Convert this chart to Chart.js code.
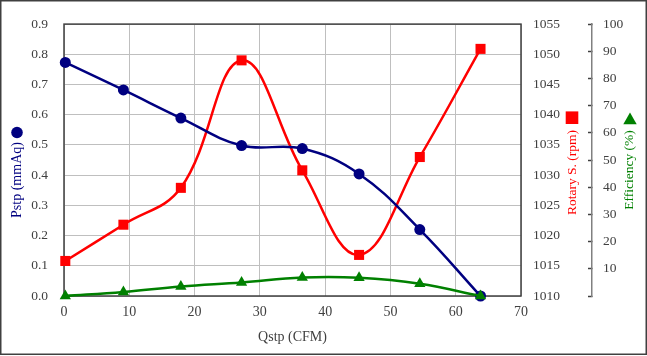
<!DOCTYPE html>
<html><head><meta charset="utf-8">
<script src="https://cdn.jsdelivr.net/npm/chart.js@4/dist/chart.umd.min.js"></script>
<style>html,body{margin:0;padding:0;background:#fff;}</style>
</head><body>
<canvas id="c" width="647" height="356"></canvas>
<script>
// ---- data ----
const flowCFM = [0.2, 9.1, 17.9, 27.2, 36.5, 45.2, 54.5, 63.8];
const pstpValues = [0.773, 0.682, 0.589, 0.498, 0.488, 0.404, 0.220, 0.0];
const rotaryValues = [1015.8, 1021.8, 1027.9, 1049.0, 1030.8, 1016.8, 1033.0, 1050.9];
const efficiencyValues = [0, 1.5, 3.5, 5.0, 6.8, 6.7, 4.5, 0];
const xTicks = [0, 10, 20, 30, 40, 50, 60, 70];
const pstpTicks = [0, 0.1, 0.2, 0.3, 0.4, 0.5, 0.6, 0.7, 0.8, 0.9];
const rotaryTicks = [1010, 1015, 1020, 1025, 1030, 1035, 1040, 1045, 1050, 1055];
const efficiencyTicks = [0, 10, 20, 30, 40, 50, 60, 70, 80, 90, 100];
const titles = { x: 'Qstp (CFM)', pstp: 'Pstp (mmAq)', rotary: 'Rotary S. (rpm)', eff: 'Efficiency (%)' };

const FONT = "'Liberation Serif', 'Times New Roman', serif";
const TICK = '#404040';
const NAVY = '#000080', RED = '#ff0000', GREEN = '#008000';

const pts = vals => flowCFM.map((x, i) => ({ x, y: vals[i] }));
const setTicks = arr => s => { s.ticks = arr.map(v => ({ value: v })); };

const deco = {
  id: 'deco',
  beforeDatasetsDraw(chart) {
    const { ctx, chartArea: a } = chart;
    ctx.save();
    ctx.strokeStyle = '#404040';
    ctx.lineWidth = 1.5;
    ctx.strokeRect(a.left, a.top, a.right - a.left, a.bottom - a.top);
    ctx.restore();
  },
  afterDraw(chart) {
    const { ctx } = chart;
    ctx.save();
    ctx.strokeStyle = '#404040';
    ctx.lineWidth = 1.5;
    ctx.strokeRect(0.75, 0.75, chart.width - 1.5, chart.height - 2.5);
    const vtext = (t, x, y, color, size) => {
      ctx.save();
      ctx.translate(x, y);
      ctx.rotate(-Math.PI / 2);
      ctx.font = size + 'px ' + FONT;
      ctx.fillStyle = color;
      ctx.textAlign = 'center';
      ctx.textBaseline = 'middle';
      ctx.fillText(t, 0, 0);
      ctx.restore();
    };
    vtext(titles.pstp, 17, 180, NAVY, 14);
    vtext(titles.rotary, 572, 172.5, RED, 13.5);
    vtext(titles.eff, 629.5, 170, GREEN, 13.5);
    // marker glyphs
    ctx.fillStyle = NAVY;
    ctx.beginPath(); ctx.arc(17, 132.5, 5.8, 0, Math.PI * 2); ctx.fill();
    ctx.fillStyle = RED;
    ctx.fillRect(572 - 6.3, 117.7 - 6.3, 12.6, 12.6);
    ctx.fillStyle = GREEN;
    ctx.beginPath(); ctx.moveTo(630, 112.5); ctx.lineTo(636.7, 124.2); ctx.lineTo(623.3, 124.2); ctx.closePath(); ctx.fill();
    ctx.restore();
  }
};

new Chart(document.getElementById('c'), {
  type: 'line',
  data: {
    datasets: [
      { label: 'Efficiency', data: pts(efficiencyValues), yAxisID: 'y2', order: 0,
        borderColor: GREEN, backgroundColor: GREEN, borderWidth: 2.5, tension: 0.4,
        pointStyle: 'triangle', pointRadius: 6.5, pointBorderWidth: 0, clip: false },
      { label: 'Pstp', data: pts(pstpValues), yAxisID: 'y', order: 1,
        borderColor: NAVY, backgroundColor: NAVY, borderWidth: 2.5, tension: 0.4,
        pointStyle: 'circle', pointRadius: 5.5, pointBorderWidth: 0, clip: false },
      { label: 'Rotary S.', data: pts(rotaryValues), yAxisID: 'y1', order: 2,
        borderColor: RED, backgroundColor: RED, borderWidth: 2.5, tension: 0.4,
        pointStyle: 'rect', pointRadius: 7.1, pointBorderWidth: 0, clip: false }
    ]
  },
  options: {
    responsive: false,
    devicePixelRatio: 1,
    animation: false,
    layout: { padding: { left: 0, right: 0, top: 19, bottom: 0 } },
    plugins: { legend: { display: false }, tooltip: { enabled: false } },
    scales: {
      x: {
        type: 'linear', min: 0, max: 70,
        afterBuildTicks: setTicks(xTicks),
        afterFit: s => { s.height = 60; },
        ticks: { font: { family: FONT, size: 14 }, color: TICK, padding: 8, callback: v => String(v) },
        grid: { color: '#bfbfbf', lineWidth: 1, drawTicks: false },
        border: { display: false },
        title: { display: true, text: titles.x, font: { family: FONT, size: 14 }, color: '#404040', padding: { top: 0, bottom: 10.5 } }
      },
      y: {
        position: 'left', min: 0, max: 0.9,
        afterBuildTicks: setTicks(pstpTicks),
        afterFit: s => { s.width = 64; },
        ticks: { font: { family: FONT, size: 13.5 }, color: TICK, padding: 16, callback: v => Number(v).toFixed(1) },
        grid: { color: '#bfbfbf', lineWidth: 1, drawTicks: false },
        border: { display: false }
      },
      y1: {
        position: 'right', weight: 0, min: 1010, max: 1055,
        afterBuildTicks: setTicks(rotaryTicks),
        afterFit: s => { s.width = 71; },
        ticks: { font: { family: FONT, size: 13.5 }, color: TICK, padding: 12, callback: v => String(v) },
        grid: { drawOnChartArea: false, drawTicks: false },
        border: { display: false }
      },
      y2: {
        position: 'right', weight: 1, min: 0, max: 100,
        afterBuildTicks: setTicks(efficiencyTicks),
        afterFit: s => { s.width = 55; },
        ticks: { font: { family: FONT, size: 13.5 }, color: TICK, padding: 15, callback: v => v === 0 ? '' : String(v) },
        grid: { drawOnChartArea: false, drawTicks: true, tickLength: -4, tickColor: '#404040', tickWidth: 1.5 },
        border: { display: true, color: '#808080', width: 1.5 }
      }
    }
  },
  plugins: [deco]
});
</script>
</body></html>
